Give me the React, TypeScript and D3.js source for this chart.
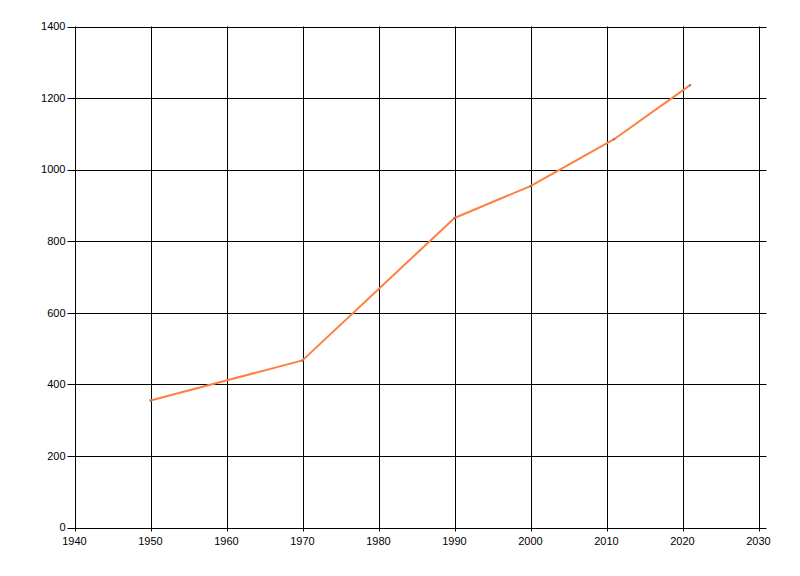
import React from "react";
import * as d3 from "d3";

const years = [1950, 1970, 1990, 2000, 2011, 2021];
const values = [355, 467, 865, 954, 1085, 1236];
const xTicks = [1940, 1950, 1960, 1970, 1980, 1990, 2000, 2010, 2020, 2030];
const yTicks = [0, 200, 400, 600, 800, 1000, 1200, 1400];

export default function App() {
  const w = 800;
  const h = 576;
  const left = 74.5;
  const right = 758.5;
  const top = 26.5;
  const bottom = 527.5;

  const x = d3.scaleLinear().domain([1940, 2030]).range([left, right]);
  const y = d3.scaleLinear().domain([0, 1400]).range([bottom, top]);

  const line = d3
    .line<number>()
    .x((d, i) => x(years[i]))
    .y((d) => y(d));

  const font = "'Liberation Sans', Arial, sans-serif";

  return (
    <svg
      width={w}
      height={h}
      style={{ position: "fixed", left: 0, top: 0, background: "#fff" }}
    >
      {/* vertical grid */}
      {xTicks.map((t) => (
        <line
          key={"vx" + t}
          x1={Math.round(x(t)) + 0.5}
          x2={Math.round(x(t)) + 0.5}
          y1={top}
          y2={bottom + 4}
          stroke="#000"
          strokeWidth={1}
        />
      ))}
      {/* horizontal grid */}
      {yTicks.map((t) => (
        <line
          key={"hy" + t}
          x1={left - 7}
          x2={right + 8}
          y1={Math.round(y(t)) + 0.5}
          y2={Math.round(y(t)) + 0.5}
          stroke="#000"
          strokeWidth={1}
        />
      ))}
      {yTicks.map((t) => (
        <text
          key={"ly" + t}
          x={left - 9}
          y={y(t)}
          dy="0.35em"
          textAnchor="end"
          fontFamily={font}
          fontSize={11}
          fill="#000"
        >
          {t}
        </text>
      ))}
      {xTicks.map((t) => (
        <text
          key={"lx" + t}
          x={x(t)}
          y={bottom + 14}
          dy="0.35em"
          textAnchor="middle"
          fontFamily={font}
          fontSize={11}
          fill="#000"
        >
          {t}
        </text>
      ))}
      <path
        d={line(values) || ""}
        fill="none"
        stroke="#ff7f40"
        strokeWidth={2}
        strokeLinejoin="round"
      />
      {values.map((v, i) => (
        <rect
          key={"m" + i}
          x={x(years[i]) - 1}
          y={y(v) - 1}
          width={2}
          height={2}
          fill="#777"
        />
      ))}
    </svg>
  );
}
